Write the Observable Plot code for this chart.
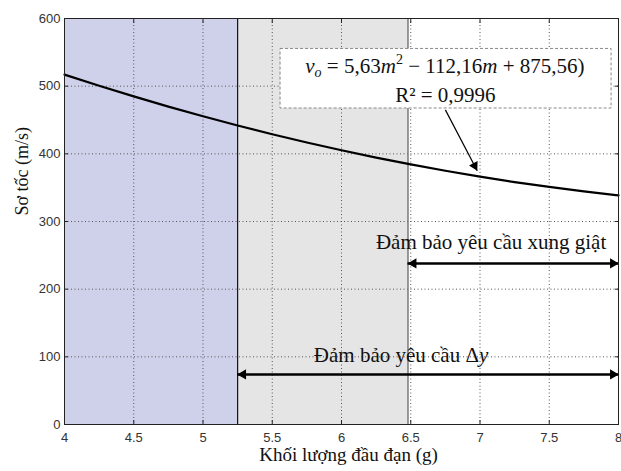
<!DOCTYPE html>
<html><head><meta charset="utf-8">
<script src="https://cdn.jsdelivr.net/npm/d3@7"></script>
<script src="https://cdn.jsdelivr.net/npm/@observablehq/plot@0.6"></script>
<style>body{margin:0;background:#fff} svg{display:block}</style>
</head><body><div id="chart"></div>
<script>
// Curve (bullet mass g -> muzzle velocity m/s)
const mass  = [4, 4.25, 4.5, 4.75, 5, 5.25, 5.5, 5.75, 6, 6.25, 6.5, 6.75, 7, 7.25, 7.5, 7.75, 8];
const speed = [517.0, 500.6, 484.9, 469.8, 455.5, 441.9, 429.0, 416.8, 405.3, 394.5, 384.4, 375.0, 366.3, 358.3, 351.1, 344.5, 338.6];

const xTicks = [4, 4.5, 5, 5.5, 6, 6.5, 7, 7.5, 8];
const yTicks = [0, 100, 200, 300, 400, 500, 600];
const xTickLabels = ["4", "4.5", "5", "5.5", "6", "6.5", "7", "7.5", "8"];

// shaded regions
const regionStart = [4, 5.25];
const regionEnd   = [5.25, 6.48];
const regionName  = ["blue", "gray"];

// range arrows
const rangeLabels = ["Đảm bảo yêu cầu xung giật", "Đảm bảo yêu cầu Δ"];
const rangeFrom   = [6.48, 5.25];
const rangeTo     = [8, 8];
const rangeY      = [238, 74];
const rangeLabelX = [7.08, 6.43];
const rangeLabelY = [269, 102];

// equation callout
const boxX = [5.56, 7.95];
const boxY = [467, 555];
const eqX = 6.75, eqY = 518, r2Y = 486;
const r2Text = "R² = 0,9996";
const calloutFrom = [6.75, 465];
const calloutTo   = [6.98, 375];

const xLabel = "Khối lượng đầu đạn (g)";
const yLabel = "Sơ tốc (m/s)";

const curve = mass.map((m, i) => ({m, v: speed[i]}));
const regions = regionStart.map((s, i) => ({x1: s, x2: regionEnd[i], name: regionName[i]}));
const ranges = rangeLabels.map((t, i) => ({t, x1: rangeFrom[i], x2: rangeTo[i], y: rangeY[i], lx: rangeLabelX[i], ly: rangeLabelY[i]}));
const heads = ranges.flatMap(r => [{x: r.x1, y: r.y, dir: -1}, {x: r.x2, y: r.y, dir: 1}]);

const serif = "'Liberation Serif', 'Times New Roman', serif";
const sans = "'Liberation Sans', Arial, sans-serif";

const plot = Plot.plot({
  width: 621, height: 471,
  marginLeft: 64, marginRight: 3, marginTop: 18, marginBottom: 47,
  x: {domain: [4, 8]},
  y: {domain: [0, 600]},
  style: {fontFamily: sans, background: "#fff"},
  marks: [
    Plot.rect(regions, {x1: "x1", x2: "x2", y1: 0, y2: 600, fill: d => d.name === "blue" ? "#cfd0ea" : "#e5e5e5"}),
    Plot.gridX(xTicks, {stroke: "#555", strokeOpacity: 1, strokeDasharray: "1,2.5"}),
    Plot.gridY(yTicks, {stroke: "#555", strokeOpacity: 1, strokeDasharray: "1,2.5"}),
    Plot.ruleX([regionEnd[0]], {stroke: "#111", strokeWidth: 1.2}),
    Plot.ruleX([regionEnd[1]], {stroke: "#777", strokeWidth: 1.5}),
    Plot.line(curve, {x: "m", y: "v", stroke: "#000", strokeWidth: 2.2, curve: "natural"}),
    Plot.rect([{}], {x1: () => boxX[0], x2: () => boxX[1], y1: () => boxY[0], y2: () => boxY[1], fill: "#fff", stroke: "#888", strokeDasharray: "3,2"}),
    Plot.text([r2Text], {x: () => eqX, y: () => r2Y, text: d => d, fontFamily: serif, fontSize: 21, fill: "#111"}),
    Plot.link([{}], {x1: () => calloutFrom[0], y1: () => calloutFrom[1], x2: () => calloutTo[0], y2: () => calloutTo[1], stroke: "#000", strokeWidth: 1.2}),
    Plot.dot([{}], {x: () => calloutTo[0], y: () => calloutTo[1], symbol: "triangle", r: 3.6, fill: "#000", rotate: 152, dx: -2.6, dy: -5}),
    Plot.ruleY(ranges, {x1: "x1", x2: "x2", y: "y", stroke: "#000", strokeWidth: 2.6}),
    Plot.dot(heads.filter(d => d.dir > 0), {x: "x", y: "y", symbol: "triangle", r: 3.8, fill: "#000", rotate: 90, dx: -5.5}),
    Plot.dot(heads.filter(d => d.dir < 0), {x: "x", y: "y", symbol: "triangle", r: 3.8, fill: "#000", rotate: -90, dx: 5.5}),
    Plot.text(ranges, {x: "lx", y: "ly", text: "t", fontFamily: serif, fontSize: 21, fill: "#111"}),
    Plot.frame({stroke: "#222", strokeWidth: 1}),
    Plot.axisX(xTicks, {anchor: "bottom", tickSize: 0, tickPadding: 8, tickFormat: (d, i) => xTickLabels[i], fontSize: 13, color: "#333", label: null}),
    Plot.axisY(yTicks, {anchor: "left", tickSize: 0, tickPadding: 4, fontSize: 13, color: "#333", label: null}),
    Plot.axisX(xTicks, {anchor: "bottom", tickSize: -4, tickFormat: () => "", stroke: "#222", label: null}),
    Plot.axisX(xTicks, {anchor: "top", tickSize: -4, tickFormat: () => "", stroke: "#222", label: null}),
    Plot.axisY(yTicks, {anchor: "left", tickSize: -4, tickFormat: () => "", stroke: "#222", label: null}),
    Plot.axisY(yTicks, {anchor: "right", tickSize: -4, tickFormat: () => "", stroke: "#222", label: null}),
    Plot.text([xLabel], {frameAnchor: "bottom", text: d => d, dy: 36, dx: 7, fontFamily: serif, fontSize: 19, fill: "#111"}),
    Plot.text([yLabel], {frameAnchor: "left", text: d => d, dx: -42, dy: -6, rotate: -90, fontFamily: serif, fontSize: 18, fill: "#111"})
  ]
});

// equation with italic parts, positioned through the plot's scales
const sx = plot.scale("x"), sy = plot.scale("y");
const svg = d3.select(plot);
const eq = svg.append("text")
  .attr("x", sx.apply(eqX)).attr("y", sy.apply(eqY))
  .attr("text-anchor", "middle")
  .attr("font-family", serif).attr("font-size", 21).attr("fill", "#111");
const parts = [["v", true], ["o", true, "sub"], [" = 5,63", false], ["m", true], ["2", false, "sup"], [" − 112,16", false], ["m", true], [" + 875,56)", false]];
parts.forEach(([t, it, pos]) => {
  const ts = eq.append("tspan").text(t);
  if (it) ts.attr("font-style", "italic");
  if (pos === "sub") ts.attr("dy", 4).attr("font-size", 14);
  if (pos === "sup") ts.attr("dy", -9).attr("font-size", 14);
  if (pos === "sub" || pos === "sup") ts.attr("class", pos);
});
// restore baselines after sub/sup
eq.selectAll("tspan").each(function(d, i, nodes) {
  const prev = nodes[i - 1];
  if (prev && prev.getAttribute("class") === "sub") d3.select(this).attr("dy", -4);
  if (prev && prev.getAttribute("class") === "sup") d3.select(this).attr("dy", 9);
});
// italic y after Δ
svg.selectAll("text").filter(function() { return this.textContent === rangeLabels[1]; })
  .each(function() {
    d3.select(this).append("tspan").attr("font-style", "italic").text("y");
  });

document.getElementById("chart").appendChild(plot);
</script>
</body></html>
